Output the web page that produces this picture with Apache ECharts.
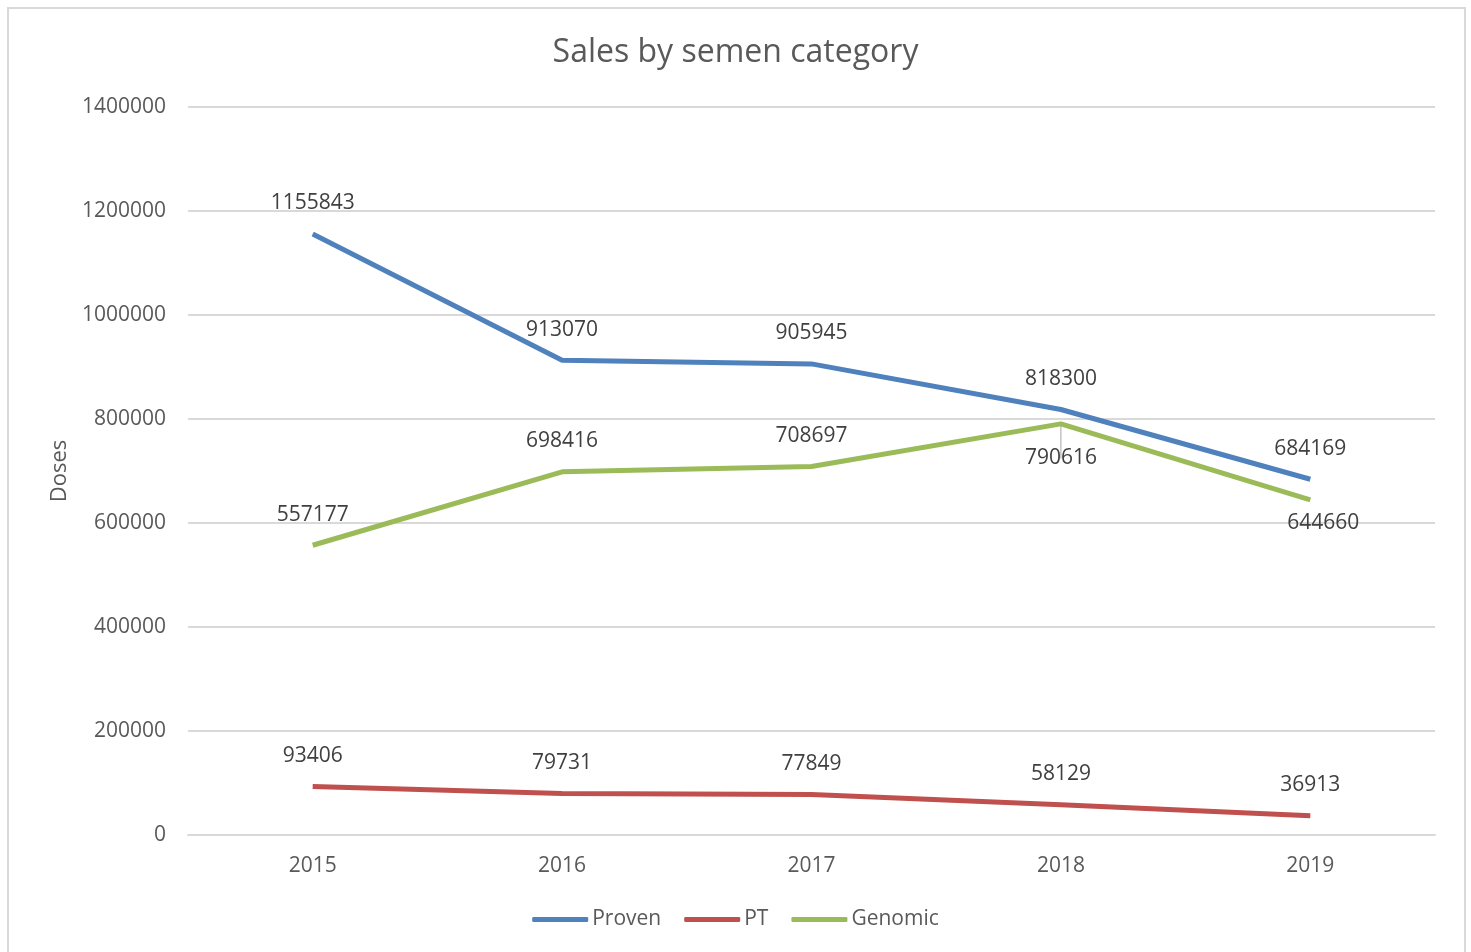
<!DOCTYPE html>
<html>
<head>
<meta charset="utf-8">
<script src="https://cdn.jsdelivr.net/npm/echarts@6/dist/echarts.min.js"></script>
<style>
    html, body {
        margin: 0;
        padding: 0;
        background: #fff;
    }
    .frame {
        position: absolute;
        left: 7px;
        top: 7px;
        width: 1455px;
        height: 960px;
        border: 2px solid #d9d9d9;
    }
    #chart {
        position: absolute;
        left: 0;
        top: 0;
        width: 1471px;
        height: 952px;
    }
</style>
</head>
<body>
<div class="frame"></div>
<div id="chart"></div>
<script>
const years = ['2015', '2016', '2017', '2018', '2019']
const proven = [1155843, 913070, 905945, 818300, 684169]
const pt = [93406, 79731, 77849, 58129, 36913]
const genomic = [557177, 698416, 708697, 790616, 644660]
// which genomic labels sit under the point
const genomicBelow = [false, false, false, true, true]

const labelAbove = {
    show: true,
    position: 'top',
    distance: 20,
    fontFamily: 'Open Sans',
    fontSize: 21,
    color: '#404040'
}

const genomicData = genomic.map((v, i) => {
    if (!genomicBelow[i]) return v
    if (i === 3) {
        return {
            value: v,
            label: { position: 'bottom', distance: 24 },
            labelLine: { show: true, lineStyle: { color: '#a6a6a6', width: 1 } }
        }
    }
    return {
        value: v,
        label: { position: 'bottom', distance: 13, offset: [13, 0] }
    }
})

const mychart = echarts.init(document.getElementById('chart'))
mychart.setOption({
    animation: false,
    title: {
        text: 'Sales by semen category',
        left: 'center',
        top: 32,
        textStyle: {
            fontFamily: 'Open Sans',
            fontSize: 32,
            fontWeight: 'normal',
            color: '#595959'
        }
    },
    legend: {
        bottom: 17,
        left: 'center',
        icon: 'roundRect',
        itemWidth: 56,
        itemHeight: 5,
        itemGap: 23,
        textStyle: {
            fontFamily: 'Open Sans',
            fontSize: 21,
            color: '#595959',
            padding: [0, 0, 0, -1]
        },
        data: ['Proven', 'PT', 'Genomic']
    },
    grid: {
        left: 188,
        right: 36,
        top: 107,
        bottom: 117
    },
    xAxis: {
        type: 'category',
        data: years,
        axisTick: { show: false },
        axisLine: { lineStyle: { color: '#d9d9d9', width: 2 } },
        axisLabel: {
            margin: 21,
            fontFamily: 'Open Sans',
            fontSize: 21,
            color: '#595959'
        }
    },
    yAxis: {
        type: 'value',
        min: 0,
        max: 1400000,
        interval: 200000,
        name: 'Doses',
        nameLocation: 'middle',
        nameGap: 117,
        nameTextStyle: {
            fontFamily: 'Open Sans',
            fontSize: 22,
            color: '#595959'
        },
        axisLine: { show: false },
        axisTick: { show: false },
        splitLine: { lineStyle: { color: '#d9d9d9', width: 2 } },
        axisLabel: {
            margin: 22,
            fontFamily: 'Open Sans',
            fontSize: 21,
            color: '#595959',
            formatter: v => String(v)
        }
    },
    series: [
        {
            name: 'Proven',
            type: 'line',
            data: proven,
            symbol: 'circle',
            symbolSize: 0,
            lineStyle: { width: 5, color: '#4f81bd' },
            itemStyle: { color: '#4f81bd' },
            label: labelAbove
        },
        {
            name: 'PT',
            type: 'line',
            data: pt,
            symbol: 'circle',
            symbolSize: 0,
            lineStyle: { width: 5, color: '#c0504d' },
            itemStyle: { color: '#c0504d' },
            label: labelAbove
        },
        {
            name: 'Genomic',
            type: 'line',
            data: genomicData,
            symbol: 'circle',
            symbolSize: 0,
            lineStyle: { width: 5, color: '#9bbb59' },
            itemStyle: { color: '#9bbb59' },
            label: labelAbove
        }
    ]
})
</script>
</body>
</html>
